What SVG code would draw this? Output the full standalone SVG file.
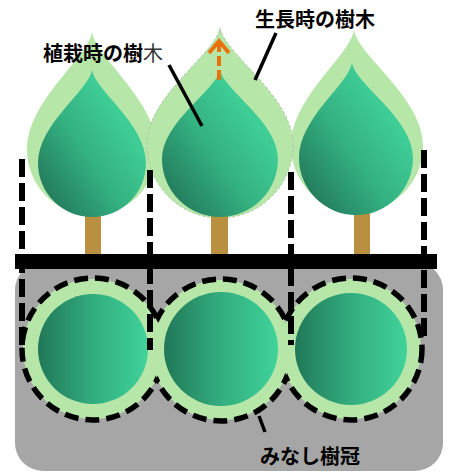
<svg xmlns="http://www.w3.org/2000/svg" width="451" height="473" viewBox="0 0 451 473">
  <style>
    .label { font-family: "Noto Sans CJK JP", "Noto Sans", sans-serif; font-size: 20px; font-weight: 700; fill: #000; }
    .halo { fill: #b7e6a9; }
    .leaf { fill: url(#leafGrad); }
    .trunk { fill: #b8903f; }
    .crown { fill: url(#crownGrad); }
    .rim { fill: none; stroke: #000; stroke-width: 5.5; stroke-dasharray: 14 7; }
    .guide { fill: none; stroke: #000; stroke-width: 6; stroke-dasharray: 18 6; }
    .leader { fill: none; stroke: #000; stroke-width: 3.5; }
    .grow { fill: none; stroke: #e8720c; stroke-width: 4; }
  </style>
  <defs>
    <linearGradient id="leafGrad" x1="0.1" y1="0.9" x2="0.75" y2="0.3">
      <stop offset="0" stop-color="#237a5b"/>
      <stop offset="0.55" stop-color="#34b282"/>
      <stop offset="1" stop-color="#3fcd96"/>
    </linearGradient>
    <linearGradient id="crownGrad" x1="0" y1="0" x2="1" y2="0">
      <stop offset="0" stop-color="#207858"/>
      <stop offset="0.5" stop-color="#33ad7f"/>
      <stop offset="1" stop-color="#40d39a"/>
    </linearGradient>
    <mask id="m1" maskUnits="userSpaceOnUse" x="0" y="0" width="451" height="473">
      <rect width="451" height="473" fill="#fff"/>
      <circle cx="221" cy="350" r="70" fill="#000"/>
    </mask>
    <mask id="m2" maskUnits="userSpaceOnUse" x="0" y="0" width="451" height="473">
      <rect width="451" height="473" fill="#fff"/>
      <circle cx="93" cy="349" r="70" fill="#000"/>
      <circle cx="351" cy="349" r="70" fill="#000"/>
    </mask>
    <mask id="m3" maskUnits="userSpaceOnUse" x="0" y="0" width="451" height="473">
      <rect width="451" height="473" fill="#fff"/>
      <circle cx="221" cy="350" r="70" fill="#000"/>
    </mask>
  </defs>

  <!-- plan view background -->
  <rect id="plan-area" x="15" y="262" width="428" height="209" rx="28" fill="#a6a6a6"/>

  <!-- grown canopies (outer halos) -->
  <g id="tree-left">
    <path class="halo" d="M92 32 C96.5 59 157 100.4 157 150 A65 65 0 0 1 27 150 C27 100.4 87.5 59 92 32 Z"/>
  </g>
  <g id="tree-right">
    <path class="halo" d="M354 30 C358.6 56.7 423 97.3 423 146 A66 66 0 0 1 291 146 C291 97.3 349.4 56.7 354 30 Z"/>
  </g>
  <g id="tree-center">
    <path class="halo" d="M220 28 C225.1 54.9 293 95.9 293 145 A73 73 0 0 1 147 145 C147 95.9 214.9 54.9 220 28 Z" stroke="#a9c9a0" stroke-width="1" stroke-dasharray="3 2"/>
  </g>

  <!-- planted trees: crowns and trunks -->
  <g id="tree-left-planted">
    <rect class="trunk" x="85" y="208" width="16" height="50" rx="3"/>
    <path class="leaf" d="M92 70 C95.8 91.4 146 124 146 163 A54 54 0 0 1 38 163 C38 124 88.2 91.4 92 70 Z"/>
  </g>
  <g id="tree-center-planted">
    <rect class="trunk" x="211" y="208" width="17" height="50" rx="3"/>
    <path class="leaf" d="M220 70 C224.1 90.5 278 121.6 278 159 A58 58 0 0 1 162 159 C162 121.6 215.9 90.5 220 70 Z"/>
  </g>
  <g id="tree-right-planted">
    <rect class="trunk" x="354" y="208" width="16" height="50" rx="3"/>
    <path class="leaf" d="M352 63 C356 85 413 118 413 158 A57 57 0 0 1 299 158 C299 118 348 85 352 63 Z"/>
  </g>

  <!-- ground line -->
  <rect id="ground" x="15" y="254" width="422" height="15" fill="#000"/>

  <!-- deemed crowns in plan -->
  <g id="crown-1">
    <circle class="halo" cx="93" cy="349" r="70"/>
    <circle class="crown" cx="93" cy="349" r="55"/>
  </g>
  <g id="crown-2">
    <circle class="halo" cx="221" cy="350" r="70"/>
    <circle class="crown" cx="221" cy="349" r="57"/>
  </g>
  <g id="crown-3">
    <circle class="halo" cx="351" cy="349" r="70"/>
    <circle class="crown" cx="351" cy="349" r="56"/>
  </g>

  <g id="connectors">
    <!-- outline of the combined deemed crown -->
    <circle class="rim" cx="93" cy="349" r="71" mask="url(#m1)"/>
    <circle class="rim" cx="221" cy="350" r="71" mask="url(#m2)"/>
    <circle class="rim" cx="351" cy="349" r="71" mask="url(#m3)"/>
    <!-- projection guides from canopy edges -->
    <line class="guide" x1="22" y1="159" x2="22" y2="350"/>
    <line class="guide" x1="150" y1="170" x2="150" y2="350"/>
    <line class="guide" x1="291" y1="172" x2="291" y2="345"/>
    <line class="guide" x1="424" y1="150" x2="424" y2="340"/>
    <!-- growth arrow -->
    <line class="grow" x1="219" y1="80" x2="219" y2="44" stroke-dasharray="10 4"/>
    <polyline class="grow" points="209,53 219,41 229,53"/>
    <!-- label leaders -->
    <line class="leader" x1="169" y1="65" x2="202" y2="126"/>
    <line class="leader" x1="276" y1="33" x2="255" y2="80"/>
    <line class="leader" x1="259" y1="416" x2="265" y2="432" stroke-width="3"/>
  </g>

  <g id="labels">
    <text class="label" x="43" y="61">植栽時の樹<tspan font-weight="400" fill="#333">木</tspan></text>
    <text class="label" x="255" y="27">生長時の樹木</text>
    <text class="label" x="260" y="464">みなし樹冠</text>
  </g>
</svg>
